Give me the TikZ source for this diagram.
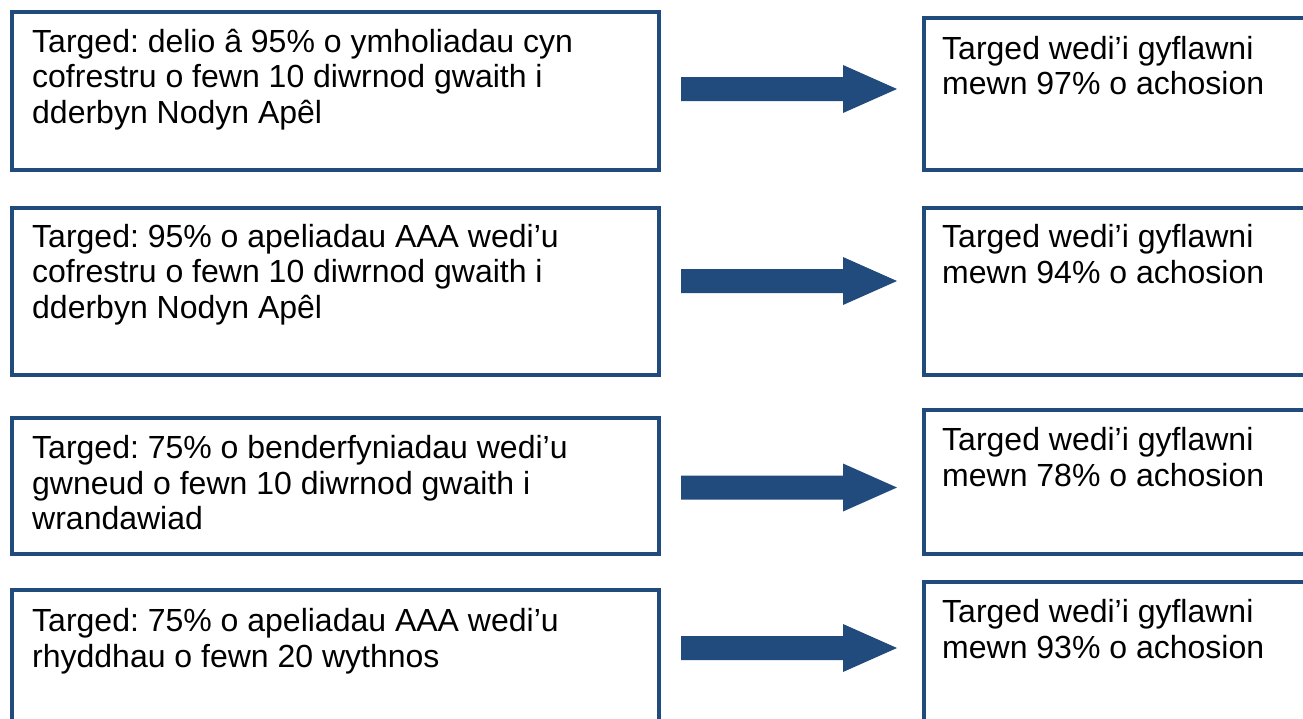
\documentclass[tikz,border=0pt]{standalone}
\usepackage{fontspec}
\setmainfont{Liberation Sans}
\frenchspacing
\definecolor{navy}{HTML}{214B7D}
\tikzset{
  box/.style={draw=navy, line width=4.3pt, fill=white, rectangle, inner sep=0pt, anchor=north west},
  txt/.style={anchor=base west, inner sep=0pt, align=left, text=black,
              font=\fontsize{32}{35.5}\selectfont\frenchspacing},
  blockarrow/.style={fill=navy, draw=none}
}
\begin{document}
\begin{tikzpicture}[x=1pt, y=-1pt]
\useasboundingbox (0,0) rectangle (1303,718);
\clip (0,0) rectangle (1303,718);
% left boxes
\node[box, minimum width=647.5pt, minimum height=158pt] (L1) at (9.5,9.5) {};
\node[box, minimum width=647.5pt, minimum height=167pt] (L2) at (9.5,206) {};
\node[box, minimum width=647.5pt, minimum height=135.5pt] (L3) at (9.5,416) {};
\node[box, minimum width=647.5pt, minimum height=160pt] (L4) at (9.5,588) {};
% right boxes
\node[box, minimum width=384.5pt, minimum height=151.5pt] (R1) at (921.5,16) {};
\node[box, minimum width=384.5pt, minimum height=167pt] (R2) at (921.5,206) {};
\node[box, minimum width=384.5pt, minimum height=144pt] (R3) at (921.5,408) {};
\node[box, minimum width=384.5pt, minimum height=170pt] (R4) at (921.5,579.5) {};
% texts (anchored at the baseline of their last line)
\node[txt] (L1t) at (32,123) {Targed: delio â 95\% o ymholiadau cyn\\cofrestru o fewn 10 diwrnod gwaith i\\dderbyn Nodyn Apêl};
\node[txt] (L2t) at (32,318) {Targed: 95\% o apeliadau AAA wedi’u\\cofrestru o fewn 10 diwrnod gwaith i\\dderbyn Nodyn Apêl};
\node[txt] (L3t) at (32,529.5) {Targed: 75\% o benderfyniadau wedi’u\\gwneud o fewn 10 diwrnod gwaith i\\wrandawiad};
\node[txt] (L4t) at (32,667) {Targed: 75\% o apeliadau AAA wedi’u\\rhyddhau o fewn 20 wythnos};
\node[txt] (R1t) at (942,94.5) {Targed wedi’i gyflawni\\mewn 97\% o achosion};
\node[txt] (R2t) at (942,283) {Targed wedi’i gyflawni\\mewn 94\% o achosion};
\node[txt] (R3t) at (942,486) {Targed wedi’i gyflawni\\mewn 78\% o achosion};
\node[txt] (R4t) at (942,658) {Targed wedi’i gyflawni\\mewn 93\% o achosion};
% block arrows
\foreach \yy in {89,281,487.5,648}{
  \fill[blockarrow] (681,\yy-12) -- (843,\yy-12) -- (843,\yy-24) -- (897,\yy)
     -- (843,\yy+24) -- (843,\yy+12) -- (681,\yy+12) -- cycle;
}
\end{tikzpicture}
\end{document}
